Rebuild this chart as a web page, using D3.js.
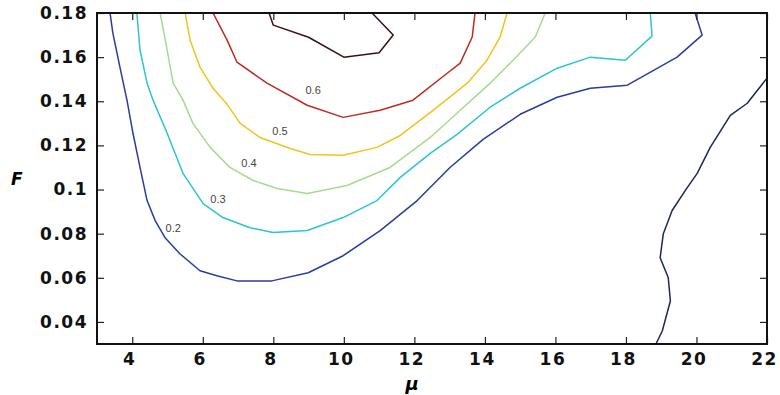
<!DOCTYPE html>
<meta charset="utf-8">
<style>
  body { margin: 0; background: #fff; }
  .tick text { font-family: "DejaVu Sans", sans-serif; font-weight: bold; font-size: 17px; letter-spacing: 1.5px; fill: #111; }
  .clab { font-family: "Liberation Sans", Arial, sans-serif; font-size: 11px; fill: #444; }
</style>
<svg width="780" height="395"></svg>
<script src="https://d3js.org/d3.v7.min.js"></script>
<script>
// contour levels, drawn as polylines (mu, F)
var levels = [0.1, 0.2, 0.3, 0.4, 0.5, 0.6, 0.7];
var colors = ["#1c2660", "#2a3d9e", "#2cc4d4", "#a6da90", "#f0c41c", "#c02a20", "#3a1212"];

var c01 = [[18.85,0.03],[19.03,0.0359],[19.26,0.0495],[19.2,0.06],[18.97,0.0691],[19.06,0.08],[19.31,0.0905],
  [19.68,0.0995],[20.02,0.1073],[20.39,0.1191],[20.96,0.1336],[21.44,0.1391],[22,0.1505]];
var c02 = [[3.37,0.18],[3.45,0.1709],[3.65,0.1555],[3.85,0.1405],[4.02,0.1255],[4.22,0.11],[4.42,0.095],
  [4.65,0.0859],[4.93,0.0782],[5.35,0.0709],[5.92,0.0632],[6.4,0.0609],[6.97,0.0586],[7.96,0.0586],
  [8.99,0.0623],[9.98,0.07],[11.03,0.0814],[12.08,0.095],[13.01,0.11],[13.95,0.1227],[15.0,0.1341],
  [16.05,0.1418],[16.99,0.1459],[18.04,0.1473],[19.45,0.16],[20.16,0.17],[19.96,0.18]];
var c03 = [[4.13,0.18],[4.22,0.1632],[4.42,0.1482],[4.59,0.1405],[4.99,0.1255],[5.44,0.1073],[6.01,0.0936],
  [6.57,0.0873],[7.34,0.0827],[7.99,0.0805],[8.96,0.0814],[9.98,0.0873],[10.94,0.095],[11.6,0.1055],
  [12.45,0.1164],[13.21,0.125],[14.15,0.1373],[15.0,0.1459],[16.05,0.155],[16.99,0.16],[17.98,0.1586],
  [18.74,0.1695],[18.69,0.18]];
var c04 = [[4.79,0.18],[4.99,0.1632],[5.16,0.1482],[5.44,0.1405],[5.72,0.13],[6.21,0.1191],[6.77,0.11],
  [7.43,0.1041],[8.11,0.1005],[8.96,0.0982],[10.09,0.1018],[11.31,0.11],[12.45,0.1236],[13.3,0.1359],
  [14.15,0.1482],[14.8,0.1586],[15.43,0.1691],[15.71,0.18]];
var c05 = [[5.5,0.18],[5.64,0.1677],[5.92,0.1555],[6.29,0.1459],[6.69,0.1386],[7.06,0.13],[7.62,0.1236],
  [8.48,0.1186],[9.04,0.1159],[9.98,0.1155],[10.94,0.1191],[11.6,0.1245],[12.53,0.1359],[13.5,0.1482],
  [14.06,0.1586],[14.43,0.1691],[14.63,0.18]];
var c06 = [[6.29,0.18],[6.69,0.1677],[6.97,0.1577],[7.82,0.1482],[8.96,0.1382],[9.98,0.1327],[11.03,0.1359],
  [11.96,0.1405],[12.93,0.1527],[13.3,0.1573],[13.64,0.1691],[13.72,0.18]];
var c07 = [[7.88,0.18],[8.0,0.1745],[9.0,0.169],[10.0,0.16],[11.0,0.162],[11.4,0.17],[10.8,0.18]];
var curves = [c01, c02, c03, c04, c05, c06, c07];

// inline level labels (mu, F)
var labelText = ["0.2", "0.3", "0.4", "0.5", "0.6"];
var labelPos = [[5.16,0.0827],[6.43,0.0955],[7.31,0.1118],[8.19,0.1264],[9.13,0.145]];

var xTicks = [4, 6, 8, 10, 12, 14, 16, 18, 20, 22];
var yTicks = [0.04, 0.06, 0.08, 0.1, 0.12, 0.14, 0.16, 0.18];
var yTickLabels = ["0.04", "0.06", "0.08", "0.1", "0.12", "0.14", "0.16", "0.18"];

var svg = d3.select("svg");
var pL = 97, pR = 767, pT = 13, pB = 344;

var x = d3.scaleLinear().domain([3, 22]).range([pL, pR]);
var y = d3.scaleLinear().domain([0.03, 0.18]).range([pB, pT]);

svg.append("clipPath").attr("id", "clip")
  .append("rect").attr("x", pL).attr("y", pT).attr("width", pR - pL).attr("height", pB - pT);

var line = d3.line().x(function(d) { return x(d[0]); }).y(function(d) { return y(d[1]); });

svg.append("g").attr("clip-path", "url(#clip)")
  .selectAll("path").data(curves).join("path")
  .attr("d", line)
  .attr("fill", "none")
  .attr("stroke", function(d, i) { return colors[i]; })
  .attr("stroke-width", 1.5)
  .attr("stroke-linejoin", "round");

svg.selectAll(".clab").data(labelPos).join("text")
  .attr("class", "clab")
  .attr("x", function(d) { return x(d[0]); })
  .attr("y", function(d) { return y(d[1]); })
  .attr("text-anchor", "middle")
  .attr("dy", "0.35em")
  .text(function(d, i) { return labelText[i]; });

// axes: ticks point inward, mirrored on top and right
var xb = svg.append("g").attr("transform", "translate(0," + pB + ")")
  .call(d3.axisBottom(x).tickValues(xTicks).tickSize(-7).tickPadding(9).tickFormat(d3.format("d")));
var xt = svg.append("g").attr("transform", "translate(0," + pT + ")")
  .call(d3.axisTop(x).tickValues(xTicks).tickSize(-7).tickFormat(""));
var yl = svg.append("g").attr("transform", "translate(" + pL + ",0)")
  .call(d3.axisLeft(y).tickValues(yTicks).tickSize(-7).tickPadding(9)
    .tickFormat(function(d, i) { return yTickLabels[i]; }));
var yr = svg.append("g").attr("transform", "translate(" + pR + ",0)")
  .call(d3.axisRight(y).tickValues(yTicks).tickSize(-7).tickFormat(""));

[xb, xt, yl, yr].forEach(function(g) {
  g.select(".domain").remove();
  g.selectAll(".tick line").attr("stroke", "#222").attr("stroke-width", 1.2);
});
xb.selectAll(".tick text").attr("dx", "-3");

svg.append("rect")
  .attr("x", pL).attr("y", pT).attr("width", pR - pL).attr("height", pB - pT)
  .attr("fill", "none").attr("stroke", "#111").attr("stroke-width", 2);

svg.append("text")
  .attr("x", 412).attr("y", 390)
  .attr("text-anchor", "middle")
  .style("font-family", "DejaVu Sans, sans-serif").style("font-weight", "bold").style("font-style", "italic")
  .style("font-size", "18px")
  .text("μ");

svg.append("text")
  .attr("x", 11).attr("y", 185)
  .style("font-family", "DejaVu Sans, sans-serif").style("font-weight", "bold").style("font-style", "italic")
  .style("font-size", "17px")
  .text("F");
</script>
